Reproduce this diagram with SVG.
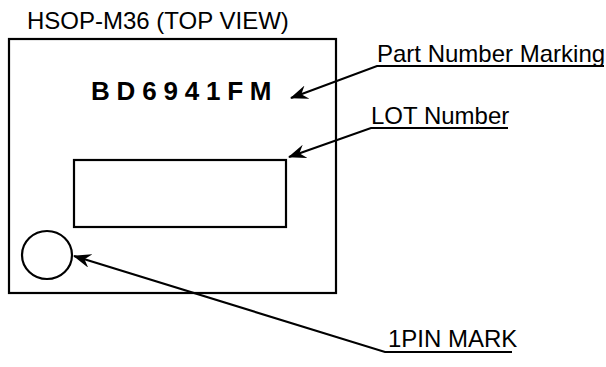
<svg xmlns="http://www.w3.org/2000/svg" width="606" height="367" viewBox="0 0 606 367">
<style>
.t{font-family:"Liberation Sans",Arial,sans-serif;font-size:24px;fill:#000}
.s{fill:none;stroke:#000;stroke-width:2.2}
</style>
<defs>
<marker id="ah" markerWidth="18" markerHeight="14" refX="17" refY="7" orient="auto" markerUnits="userSpaceOnUse" viewBox="0 0 18 14">
<path d="M0,0 L18,7 L0,14 L6,7 Z" fill="#000"/>
</marker>
</defs>
<rect width="606" height="367" fill="#fff"/>
<text class="t" x="27" y="29">HSOP-M36 (TOP VIEW)</text>
<g id="package">
<rect class="s" x="9" y="39" width="327" height="254"/>
</g>
<g id="part-number">
<text x="91" y="100" font-family="Liberation Sans,Arial,sans-serif" font-weight="bold" font-size="26" letter-spacing="6.8">BD6941FM</text>
</g>
<g id="lot-box">
<rect class="s" x="74" y="160" width="212" height="67"/>
</g>
<g id="pin-mark">
<ellipse class="s" cx="47" cy="255" rx="25" ry="24"/>
</g>
<g id="labels">
<text class="t" x="377" y="62">Part Number Marking</text>
<text class="t" x="371" y="124">LOT Number</text>
<text class="t" x="388" y="347" font-size="23.3">1PIN MARK</text>
</g>
<g id="connectors">
<polyline class="s" points="604,66 377,66 291,98" marker-end="url(#ah)"/>
<polyline class="s" points="508,128 371,128 289,157" marker-end="url(#ah)"/>
<polyline class="s" points="512,352 385,352 74,256" marker-end="url(#ah)"/>
</g>
</svg>
